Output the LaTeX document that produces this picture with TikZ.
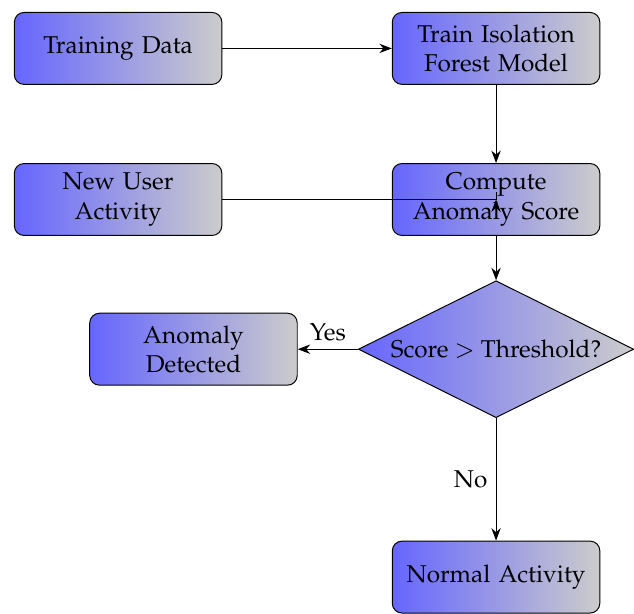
\documentclass[tikz,border=0pt]{standalone}
\usepackage[T1]{fontenc}
\usepackage{mathpazo}
\usepackage{tikz}
\usetikzlibrary{arrows.meta,positioning,shapes.geometric}

\begin{document}
\begin{tikzpicture}[>={Stealth[length=1.8mm]}, node distance=1.13cm,
  box/.style={rectangle,rounded corners,draw,minimum width=3cm,minimum height=1.04cm,
    text width=2.7cm,align=center,left color=blue!60,right color=gray!40},
  test/.style={diamond,draw,aspect=2,inner sep=1pt,minimum width=3.98cm,
    minimum height=1.98cm,left color=blue!60,right color=gray!40}]
  \node[box] (data) {Training Data};
  \node[box, right=2.45cm of data] (model) {Train Isolation Forest Model};
  \node[box, below=of data] (newuser) {New User Activity};
  \node[box, below=of model] (score) {Compute Anomaly Score};
  \node[test, below=0.64cm of score] (check) {Score $>$ Threshold?};
  \node[box, left=0.87cm of check] (anomaly) {Anomaly Detected};
  \node[box, below=1.77cm of check] (normal) {Normal Activity};
  \useasboundingbox ([xshift=-0.2cm, yshift=0.173cm]data.north west) rectangle ++(9.149,-8.773);
  \draw[->] (data) -- (model);
  \draw[->] (model) -- (score);
  \draw[->] (newuser) -| (score);
  \draw[->] (score) -- (check);
  \draw[->] (check) -- node[above]{Yes} (anomaly);
  \draw[->] (check) -- node[left]{No} (normal);
\end{tikzpicture}
\end{document}
